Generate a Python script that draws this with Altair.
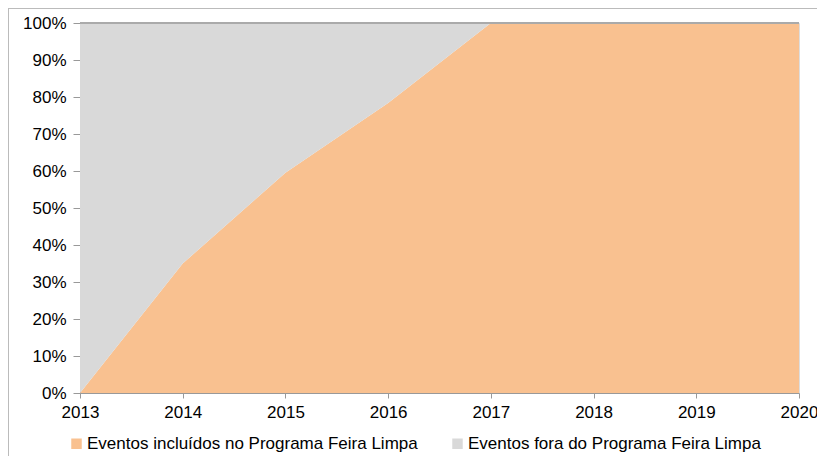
import altair as alt
import pandas as pd

years = [2013, 2014, 2015, 2016, 2017, 2018, 2019, 2020]
incluidos = [0.0, 0.35, 0.595, 0.784, 1.0, 1.0, 1.0, 1.0]
fora = [1.0, 0.65, 0.405, 0.216, 0.0, 0.0, 0.0, 0.0]
series = ["Eventos incluídos no Programa Feira Limpa", "Eventos fora do Programa Feira Limpa"]
colors = ["#F9C190", "#D9D9D9"]

rows = []
for y, a, b in zip(years, incluidos, fora):
    rows.append({"ano": y, "serie": series[0], "valor": a, "ord": 0})
    rows.append({"ano": y, "serie": series[1], "valor": b, "ord": 1})
df = pd.DataFrame(rows)

W, H = 719, 370
FONT = "Liberation Sans"

area = alt.Chart(df).mark_area(opacity=1, clip=True).encode(
    x=alt.X("ano:Q", scale=alt.Scale(domain=[2013, 2020], nice=False, zero=False),
            axis=alt.Axis(values=years, format="d", title=None, labelFontSize=17,
                          labelColor="#000", tickColor="#999", domainColor="#999",
                          tickSize=5, labelPadding=6, grid=False, labelFont=FONT,
                          labelFlush=False)),
    y=alt.Y("valor:Q", stack=True, scale=alt.Scale(domain=[0, 1], nice=False),
            axis=alt.Axis(values=[i / 10 for i in range(11)], format=".0%", title=None,
                          labelFontSize=17, labelColor="#000", tickColor="#999",
                          domainColor="#999", tickSize=7, labelPadding=7, grid=False,
                          labelFont=FONT)),
    color=alt.Color("serie:N", scale=alt.Scale(domain=series, range=colors),
                    legend=alt.Legend(title=None, orient="none", legendX=-12, legendY=412,
                                      direction="horizontal", symbolType="square",
                                      symbolSize=110, symbolStrokeWidth=0,
                                      labelFontSize=17, labelFont=FONT, labelColor="#000",
                                      columnPadding=31, labelOffset=2, labelLimit=400)),
    order=alt.Order("ord:Q", sort="ascending"),
)

top_line = alt.Chart(df).mark_rule(color="#aaa", strokeWidth=1.5).encode(
    x=alt.value(0), x2=alt.value(W), y=alt.value(0)
)
frame_top = alt.Chart(df).mark_rule(color="#bbb", strokeWidth=1.5, clip=False).encode(
    x=alt.value(-72), x2=alt.value(760), y=alt.value(-15)
)
frame_left = alt.Chart(df).mark_rule(color="#bbb", strokeWidth=1.5, clip=False).encode(
    x=alt.value(-72), y=alt.value(-15), y2=alt.value(440)
)

chart = alt.layer(area, top_line, frame_top, frame_left).properties(
    width=W, height=H,
    autosize=alt.AutoSizeParams(type="none"),
    padding={"left": 72, "top": 15, "right": 18, "bottom": 63},
).configure_view(stroke=None).configure(font=FONT)

chart.save("out.html", embed_options={"renderer": "svg", "actions": False})
